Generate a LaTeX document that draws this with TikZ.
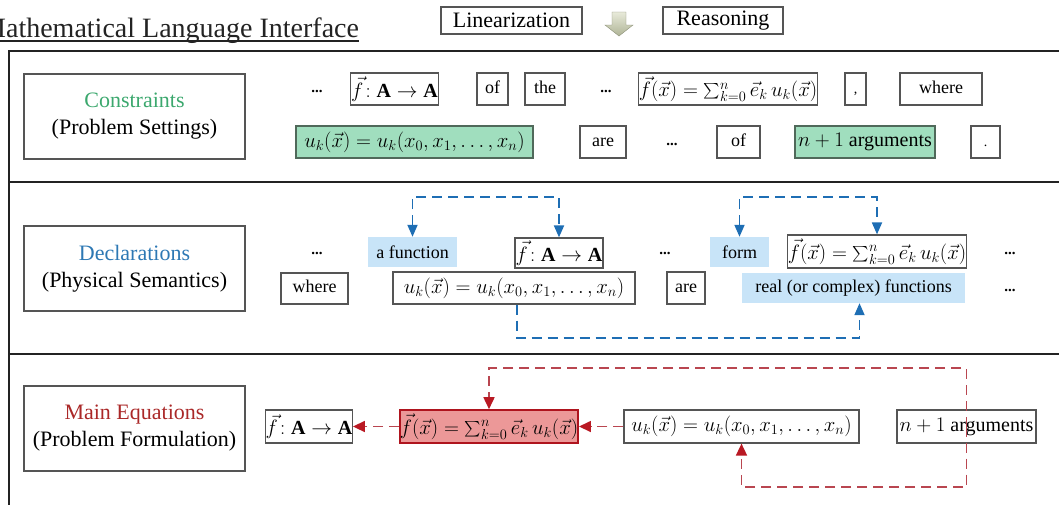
\documentclass[tikz,border=0pt]{standalone}
\usepackage{fontspec}
\usepackage{graphicx}
\setmainfont{Liberation Serif}
\usetikzlibrary{arrows.meta,calc}

\definecolor{framecol}{RGB}{35,35,35}
\definecolor{boxgray}{RGB}{85,85,85}
\definecolor{cgreentext}{RGB}{60,168,110}
\definecolor{cgreenfill}{RGB}{160,222,190}
\definecolor{cgreenline}{RGB}{80,105,90}
\definecolor{cbluetext}{RGB}{45,120,180}
\definecolor{cbluefill}{RGB}{200,228,248}
\definecolor{cbluearr}{RGB}{30,110,180}
\definecolor{credtext}{RGB}{170,40,40}
\definecolor{credfill}{RGB}{236,152,152}
\definecolor{credline}{RGB}{175,20,30}
\definecolor{credarr}{RGB}{185,25,35}
\definecolor{credline2}{RGB}{185,70,80}
\definecolor{arrowtop}{RGB}{232,234,218}
\definecolor{arrowbot}{RGB}{175,180,150}

% a text-size summation sign with side limits
\newcommand{\bigsumop}{\mathop{\raisebox{-0.35ex}{\scalebox{1.55}{$\textstyle\sum$}}}\nolimits}
\newcommand{\fsumexpr}{$\vec{f}(\vec{x})=\bigsumop_{k=0}^{n}\vec{e}_k\,u_k(\vec{x})$}
\newcommand{\fmapexpr}{$\vec{f}\!:\mathbf{A}\rightarrow\mathbf{A}$}
\newcommand{\uexpr}{$u_k(\vec{x})=u_k(x_0,x_1,\ldots,x_n)$}

\tikzset{
  wbox/.style={draw=boxgray, line width=1.2pt, fill=white, inner sep=0pt,
    minimum height=32pt, text height=12pt, text depth=4pt,
    font=\fontsize{18}{21}\selectfont},
  mbox/.style={draw=boxgray, line width=1.2pt, fill=white, inner sep=0pt,
    minimum height=32pt, font=\fontsize{20}{24}\selectfont},
  gbox/.style={mbox, fill=cgreenfill, draw=cgreenline},
  bbox/.style={fill=cbluefill, inner sep=0pt, minimum height=30pt,
    font=\fontsize{18}{21}\selectfont},
  rbox/.style={mbox, fill=credfill, draw=credline, line width=1.6pt},
  dotsnode/.style={inner sep=0pt, font=\bfseries\fontsize{15}{15}\selectfont},
  labelbox/.style={draw=boxgray, line width=1.2pt, inner sep=0pt,
    minimum width=221pt, minimum height=85pt, align=center,
    font=\fontsize{22}{27}\selectfont},
  topbox/.style={draw=boxgray, line width=1.1pt, inner sep=0pt,
    minimum height=27pt, font=\fontsize{22}{24}\selectfont},
  tipboth/.style={{Triangle[length=12pt,width=10pt]}-{Triangle[length=12pt,width=10pt]}},
  tipend/.style={-{Triangle[length=12pt,width=10pt]}},
  bluearr/.style={draw=cbluearr, line width=1.8pt, dash pattern=on 10pt off 6pt},
  redarr/.style={draw=credline2, line width=1.6pt, dash pattern=on 10pt off 6pt,
    arrows={-{Triangle[length=12pt,width=11pt,color=credarr]}}},
}

\begin{document}
\begin{tikzpicture}[x=1pt,y=-1pt]
\useasboundingbox (0,0) rectangle (1059,504);

% heading and the two stage boxes
\node[anchor=base west, inner sep=0pt, text=framecol,
      font=\fontsize{28}{30}\selectfont] (title) at (-19,37) {Mathematical Language Interface};
\draw[line width=1.3pt, framecol] ([yshift=-4pt]title.base west) -- ([yshift=-4pt]title.base east);

\node[topbox, minimum width=141pt] (lin) at (511.5,20.5) {Linearization};
\node[topbox, minimum width=120pt] (rea) at (723,20.5) {Reasoning};
\shade[top color=arrowtop, bottom color=arrowbot, draw=arrowbot!80!black, line width=0.4pt]
  (612,12) -- (626,12) -- (626,25) -- (633,25) -- (619,36) -- (605,25) -- (612,25) -- cycle;

% outer frame with section rules
\draw[line width=2.5pt, framecol] (1075,51) -- (9,51) -- (9,515);
\draw[line width=2.5pt, framecol] (9,182) -- (1075,182);
\draw[line width=2.5pt, framecol] (9,354) -- (1075,354);

% section labels
\node[labelbox] (lab1) at (134.5,116.5) {\textcolor{cgreentext}{Constraints}\\(Problem Settings)};
\node[labelbox] (lab2) at (134.5,268.5) {\textcolor{cbluetext}{Declarations}\\(Physical Semantics)};
\node[labelbox] (lab3) at (134.5,428.5) {\textcolor{credtext}{Main Equations}\\(Problem Formulation)};

% ---- constraints ----
\node[dotsnode] (c1d1) at (317,91) {...};
\node[mbox, minimum width=88pt] (c1map) at (394.5,89) {\fmapexpr};
\node[wbox, minimum width=31pt] (c1of) at (492.5,89) {of};
\node[wbox, minimum width=40pt] (c1the) at (545,89) {the};
\node[dotsnode] (c1d2) at (606,91) {...};
\node[mbox, minimum width=170pt] (c1sum) at (728,89) {\fsumexpr};
\node[wbox, minimum width=21pt, font=\fontsize{14}{16}\selectfont] (c1comma) at (855.5,89) {,};
\node[wbox, minimum width=82pt] (c1where) at (941,89) {where};

\node[gbox, minimum width=237pt] (c2u) at (414.5,142) {\uexpr};
\node[wbox, minimum width=46pt] (c2are) at (603,142) {are};
\node[dotsnode] (c2d) at (672,144) {...};
\node[wbox, minimum width=43pt] (c2of) at (738.5,142) {of};
\node[gbox, minimum width=140pt] (c2args) at (865,142) {$n+1$ arguments};
\node[wbox, minimum width=29pt, font=\fontsize{14}{16}\selectfont] (c2stop) at (985.5,142) {.};

% ---- declarations ----
\node[dotsnode] (d1d1) at (317,253) {...};
\node[bbox, minimum width=89pt] (d1func) at (412.5,252) {a function};
\node[mbox, minimum width=88pt, minimum height=30pt] (d1map) at (559,253) {\fmapexpr};
\node[dotsnode] (d1d2) at (665,253) {...};
\node[bbox, minimum width=59pt] (d1form) at (739.5,252) {form};
\node[mbox, minimum width=170pt, minimum height=33pt] (d1sum) at (877,251.5) {\fsumexpr};
\node[dotsnode] (d1d3) at (1010,253) {...};

\node[wbox, minimum width=67pt, minimum height=31pt] (d2where) at (314.5,288.5) {where};
\node[mbox, minimum width=242pt, minimum height=32pt] (d2u) at (514,288) {\uexpr};
\node[wbox, minimum width=38pt, minimum height=32pt] (d2are) at (686,288) {are};
\node[bbox, minimum width=223pt] (d2real) at (853.5,288) {real (or complex) functions};
\node[dotsnode] (d2d) at (1010,290) {...};

\draw[bluearr, tipboth] (d1func.north) -- (d1func.north |- 0,197) -| (d1map.north);
\draw[bluearr, tipboth] (d1form.north) -- (d1form.north |- 0,197) -| (d1sum.north);
\draw[bluearr, tipend] ([xshift=3pt]d2u.south) -- ([xshift=3pt]d2u.south |- 0,338) -| ([xshift=6pt]d2real.south);

% ---- main equations ----
\node[mbox, minimum width=86pt, minimum height=33pt] (m1map) at (309,426.5) {\fmapexpr};
\node[rbox, minimum width=174pt, minimum height=33pt] (m1sum) at (489,426.5) {\fsumexpr};
\node[mbox, minimum width=235pt, minimum height=33pt] (m1u) at (741.5,426.5) {\uexpr};
\node[mbox, minimum width=139pt, minimum height=33pt] (m1args) at (966.5,426.5) {$n+1$ arguments};

\draw[redarr] (m1sum.west) -- (m1map.east);
\draw[redarr] (m1u.west) -- (m1sum.east);
\draw[redarr] (m1args.center) -- (m1args.center |- 0,368) -| (m1sum.north);
\draw[redarr] (m1args.center) -- (m1args.center |- 0,487) -| (m1u.south);

\end{tikzpicture}
\end{document}
